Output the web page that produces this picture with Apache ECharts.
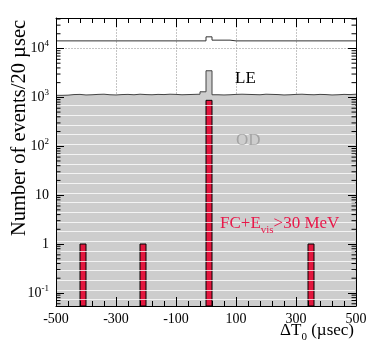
<!DOCTYPE html>
<html><head><meta charset="utf-8">
<script src="https://cdn.jsdelivr.net/npm/echarts@6/dist/echarts.min.js"></script>
<style>html,body{margin:0;padding:0;background:#fff}#c{width:374px;height:360px}</style>
</head><body><div id="c"></div>
<script>
// ---- data ----
const binWidth = 20;
const xMin = -500, xMax = 500;
const yMin = 0.054, yMax = 42000;
const leCounts = [
  14300,14300,14300,14300,14300,14300,14300,14300,14300,14300,
  14300,14300,14300,14300,14300,14300,14300,14300,14300,14300,
  14300,14300,14300,14300,14300,17300,14800,14800,14800,14300,
  14300,14300,14300,14300,14300,14300,14300,14300,14300,14300,
  14300,14300,14300,14300,14300,14300,14300,14300,14300,14300
];
const odCounts = [
  1100,1110,1140,1150,1120,1130,1150,1160,1130,1120,
  1140,1150,1130,1160,1140,1130,1150,1140,1160,1150,
  1130,1140,1150,1160,1300,3500,1130,1120,1130,1150,
  1160,1150,1140,1130,1160,1150,1140,1120,1130,1150,
  1160,1140,1130,1150,1140,1120,1130,1150,1140,1160
];
const fcBins = [-420, -220, 0, 340];
const fcCounts = [1, 1, 870, 1];
const xTickLabels = ['-500','-300','-100','100','300','500'];
const yTickLabels = ['10{sup|-1}','1','10','10{sup|2}','10{sup|3}','10{sup|4}'];
const xGridValues = [-300, -100, 100, 300];
const yGridValues = [0.1, 1, 10, 100, 1000, 10000];

const serif = 'Liberation Serif';
function stepData(counts){
  const d = counts.map((v,i)=>[xMin + i*binWidth, v]);
  d.push([xMax, counts[counts.length-1]]);
  return d;
}
const minorY = [];
for (let e = -2; e <= 4; e++) for (let m = 2; m <= 9; m++) {
  const v = m * Math.pow(10, e);
  if (v > yMin && v < yMax) minorY.push([xMin, v]);
}
const gridData = xGridValues.map(v=>[v, yMin, 0]).concat(yGridValues.map(v=>[xMin, v, 1]));

const chart = echarts.init(document.getElementById('c'), null, {renderer:'canvas'});
const xAxisCommon = {
  type:'value', min:xMin, max:xMax, interval:200, z:10,
  axisLine:{show:true, onZero:false, lineStyle:{color:'#000', width:1}},
  axisTick:{show:true, inside:true, length:9, lineStyle:{color:'#000', width:1}},
  minorTick:{show:true, splitNumber:5, length:5, lineStyle:{color:'#000', width:1}},
  splitLine:{show:false}
};
const yAxisCommon = {
  type:'log', logBase:10, min:yMin, max:yMax, z:10,
  axisLine:{show:true, onZero:false, lineStyle:{color:'#000', width:1}},
  axisTick:{show:true, inside:true, length:8, lineStyle:{color:'#000', width:1}},
  splitLine:{show:false}
};
chart.setOption({
  animation:false,
  backgroundColor:'#fff',
  grid:{left:56, right:18, top:18, bottom:54, show:false, outerBoundsMode:'none', containLabel:false},
  xAxis:[
    Object.assign({}, xAxisCommon, {
      position:'bottom',
      axisLabel:{show:true, margin:6, color:'#000', fontFamily:serif, fontSize:14,
        formatter:(v)=>{ const i = Math.round((v - xMin)/200); return xTickLabels[i] || ''; }}
    }),
    Object.assign({}, xAxisCommon, {position:'top', axisLabel:{show:false}})
  ],
  yAxis:[
    Object.assign({}, yAxisCommon, {
      position:'left',
      axisLabel:{show:true, margin:7, color:'#000', fontFamily:serif, fontSize:14, lineHeight:18,
        rich:{sup:{fontSize:9, fontFamily:serif, color:'#000', verticalAlign:'top', lineHeight:10}},
        formatter:(v)=>{
          const l = Math.log10(v), e = Math.round(l);
          if (Math.abs(l - e) > 1e-6) return '';
          return yTickLabels[e + 1] || '';
        }}
    }),
    Object.assign({}, yAxisCommon, {position:'right', axisLabel:{show:false}})
  ],
  series:[
    {
      name:'grid', type:'custom', z:1, silent:true,
      data:gridData, encode:{x:0, y:1},
      renderItem:(params, api)=>{
        const isH = api.value(2) === 1;
        let a, b;
        if (isH) { a = api.coord([xMin, api.value(1)]); b = api.coord([xMax, api.value(1)]); }
        else { a = api.coord([api.value(0), yMin]); b = api.coord([api.value(0), yMax]); }
        return {type:'line', shape:{x1:Math.round(a[0])+0.5, y1:Math.round(a[1])+0.5, x2:Math.round(b[0])+0.5, y2:Math.round(b[1])+0.5},
          style:{stroke:'#8a8a8a', lineWidth:1, lineDash:[1,2]}};
      }
    },
    {
      name:'OD', type:'line', step:'end', data:stepData(odCounts),
      symbol:'none', lineStyle:{color:'#444', width:1},
      areaStyle:{color:'#cdcdcd', origin:'start', opacity:1}, z:2
    },
    {
      name:'LE', type:'line', step:'end', data:stepData(leCounts),
      symbol:'none', lineStyle:{color:'#333', width:1}, z:3
    },
    {
      name:'FC', type:'custom', z:4,
      data: fcBins.map((b,i)=>[b, fcCounts[i]]),
      encode:{x:0, y:1},
      renderItem:(params, api)=>{
        const x0 = api.value(0), v = api.value(1);
        const p1 = api.coord([x0, v]);
        const p2 = api.coord([x0 + binWidth, yMin]);
        return {type:'rect', shape:{x:p1[0], y:p1[1], width:p2[0]-p1[0], height:p2[1]-p1[1]},
          style:{fill:'#e3173e', stroke:'#000', lineWidth:1}};
      }
    },
    {
      name:'yminor', type:'custom', z:5, silent:true,
      data:minorY, encode:{x:0, y:1},
      renderItem:(params, api)=>{
        const v = api.value(1);
        const l = api.coord([xMin, v]);
        const r = api.coord([xMax, v]);
        return {type:'group', children:[
          {type:'line', shape:{x1:l[0], y1:l[1], x2:l[0]+4.5, y2:l[1]}, style:{stroke:'#000', lineWidth:1}},
          {type:'line', shape:{x1:r[0], y1:r[1], x2:r[0]-4.5, y2:r[1]}, style:{stroke:'#000', lineWidth:1}}
        ]};
      }
    }
  ]
});

// decorative fill texture (white stripes) + text annotations
const gfx = [];
for (let k = 0; k <= 20; k++) {
  const y = Math.round(299.3 - 9.7*k) + 0.5;
  gfx.push({type:'line', z:6, silent:true, shape:{x1:57, y1:y, x2:355, y2:y}, style:{stroke:'#ffffff', lineWidth:1, opacity:0.75}});
}
gfx.push(
  {type:'text', z:60, x:235, y:79, style:{text:'LE', fontFamily:serif, fontSize:17, fill:'#000', verticalAlign:'middle'}},
  {type:'text', z:60, x:236, y:141, style:{text:'OD', fontFamily:serif, fontSize:17, fill:'#a4a4a4', verticalAlign:'middle'}},
  {type:'text', z:60, x:220, y:224, style:{text:'FC+E{sub|vis}>30 MeV', fontFamily:serif, fontSize:17, fill:'#e8194a', verticalAlign:'middle',
    rich:{sub:{fontSize:11, fontFamily:serif, fill:'#e8194a', verticalAlign:'bottom', lineHeight:24}}}},
  {type:'text', z:60, x:354, y:331, style:{text:'ΔT{sub|0} (µsec)', fontFamily:serif, fontSize:17, fill:'#000', align:'right', verticalAlign:'middle',
    rich:{sub:{fontSize:11, fontFamily:serif, fill:'#000', verticalAlign:'bottom', lineHeight:24}}}},
  {type:'text', z:60, x:20, y:128, rotation:Math.PI/2, style:{text:'Number of events/20 µsec', fontFamily:serif, fontSize:20.5, fill:'#000', align:'center', verticalAlign:'middle'}}
);
chart.setOption({graphic:gfx});
</script></body></html>
